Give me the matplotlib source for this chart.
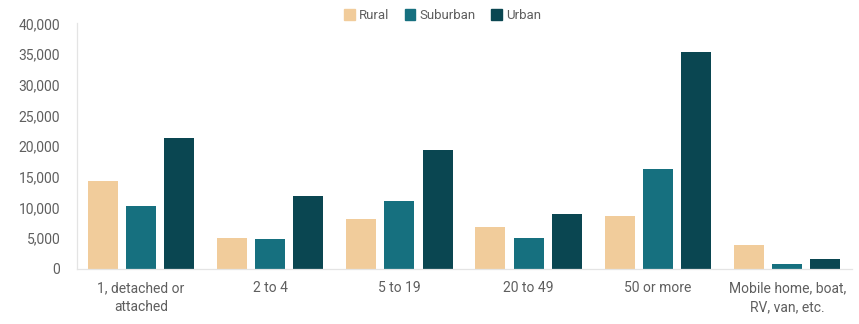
import numpy as np
import matplotlib.pyplot as plt
from matplotlib.patches import Patch

plt.rcParams['font.family'] = ['Roboto', 'DejaVu Sans']

categories = ['1, detached or\nattached', '2 to 4', '5 to 19', '20 to 49',
              '50 or more', 'Mobile home, boat,\nRV, van, etc.']
rural = [14400, 5000, 8150, 6800, 8550, 3900]
suburban = [10300, 4900, 11000, 5050, 16200, 780]
urban = [21400, 11800, 19400, 8950, 35350, 1650]

series_names = ['Rural', 'Suburban', 'Urban']
colors = ['#F1CC9B', '#16707F', '#0A4651']
text_color = '#5f5f5f'

fig = plt.figure(figsize=(8.59, 3.24), dpi=100)
ax = fig.add_axes([0.0896, 0.170, 0.902, 0.758])

x = np.arange(len(categories))
width = 0.232
step = 0.296
for i, (vals, c) in enumerate(zip([rural, suburban, urban], colors)):
    ax.bar(x + (i - 1) * step, vals, width, color=c, zorder=2)

ax.set_xlim(-0.495, 5.5)
ax.set_ylim(0, 40000)
ax.set_yticks(range(0, 40001, 5000))
ax.set_yticklabels([f'{v:,}' for v in range(0, 40001, 5000)])
ax.set_xticks(x)
ax.set_xticklabels(categories, linespacing=1.45)

for s in ['top', 'right']:
    ax.spines[s].set_visible(False)
for s in ['left', 'bottom']:
    ax.spines[s].set_color('#e4e4e4')
    ax.spines[s].set_linewidth(0.9)
ax.tick_params(axis='both', length=0, colors=text_color, labelsize=10)
ax.tick_params(axis='x', pad=9)
ax.tick_params(axis='y', pad=12)

handles = [Patch(color=c, label=n) for c, n in zip(colors, series_names)]
fig.legend(handles=handles, loc='center', bbox_to_anchor=(0.515, 0.952), ncol=3,
           frameon=False, fontsize=9.5, labelcolor=text_color,
           handlelength=0.8, handleheight=0.8, handletextpad=0.3, columnspacing=1.2)

fig.savefig('out.png', dpi=100)
